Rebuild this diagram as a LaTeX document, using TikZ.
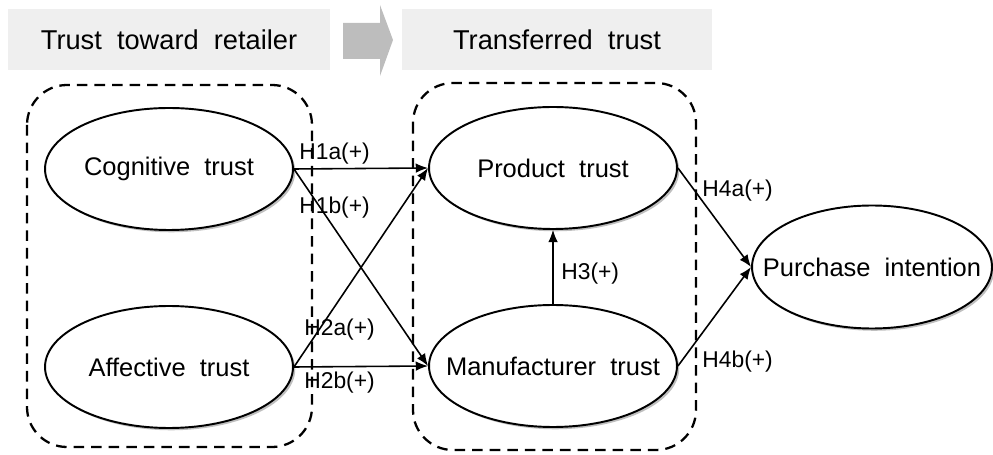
\documentclass[tikz,border=0pt]{standalone}
\usepackage{fontspec}
\setmainfont{Liberation Sans}
\usetikzlibrary{shapes.geometric,arrows.meta,shadows}
\definecolor{hdrgray}{HTML}{EFEFEF}
\definecolor{arrowgray}{HTML}{BDBDBD}
\begin{document}
\begin{tikzpicture}[x=0.02cm,y=-0.02cm,
 hdr/.style={fill=hdrgray, draw=none, inner sep=0pt, font=\fontsize{15.5}{18}\selectfont},
 latent/.style={ellipse, draw=black, line width=1.1pt, fill=white, inner sep=0pt,
   minimum width=4.96cm, minimum height=2.44cm, font=\fontsize{14.5}{17}\selectfont,
   drop shadow={shadow xshift=1.3pt, shadow yshift=-1.3pt, fill=black!50}},
 grp/.style={draw=black, line width=1.3pt, dash pattern=on 6pt off 4pt, rounded corners=0.8cm},
 conn/.style={draw=black, line width=0.9pt, -{Latex[length=7pt,width=5.5pt]}},
 hyp/.style={font=\fontsize{13}{15}\selectfont, inner sep=0pt, anchor=west}
]
\useasboundingbox (0,0) rectangle (993,455);
% header bars
\node[hdr, minimum width=6.44cm, minimum height=1.22cm] (h1) at (169,39.5) {Trust\ \ toward\ \ retailer};
\node[hdr, minimum width=6.2cm, minimum height=1.22cm] (h2) at (557,39.5) {Transferred\ \ trust};
\fill[arrowgray] (343,23) -- (380,23) -- (380,5) -- (393,40) -- (380,76) -- (380,59) -- (343,59) -- cycle;
% groups
\draw[grp] (27,85) rectangle (312,447);
\draw[grp] (413,83) rectangle (696,450);
% latent constructs
\node[latent] (cog) at (169,169) {\makebox[0pt]{Cognitive\ \ trust}};
\node[latent] (aff) at (169,367) {\makebox[0pt]{Affective\ \ trust}};
\node[latent] (prod) at (553,168) {\makebox[0pt]{Product\ \ trust}};
\node[latent] (man) at (553,366) {\makebox[0pt]{Manufacturer\ \ trust}};
\node[latent, minimum width=4.8cm, minimum height=2.46cm] (pi) at (872,267) {\makebox[0pt]{Purchase\ \ intention}};
% paths
\draw[conn] (cog.east) -- (prod.west);
\draw[conn] (cog.east) -- (man.west);
\draw[conn] (aff.east) -- (prod.west);
\draw[conn] (aff.east) -- (man.west);
\draw[conn, line width=0.6pt] (man.north) -- (prod.south);
\draw[conn] (prod.east) -- (pi.west);
\draw[conn] (man.east) -- (pi.west);
% hypothesis labels
\node[hyp] (l1a) at (299,154) {H1a(+)};
\node[hyp] (l1b) at (299,208) {H1b(+)};
\node[hyp] (l2a) at (304,330) {H2a(+)};
\node[hyp] (l2b) at (304,383) {H2b(+)};
\node[hyp] (l3) at (561,274) {H3(+)};
\node[hyp] (l4a) at (702,191) {H4a(+)};
\node[hyp] (l4b) at (702,362) {H4b(+)};
\end{tikzpicture}
\end{document}
